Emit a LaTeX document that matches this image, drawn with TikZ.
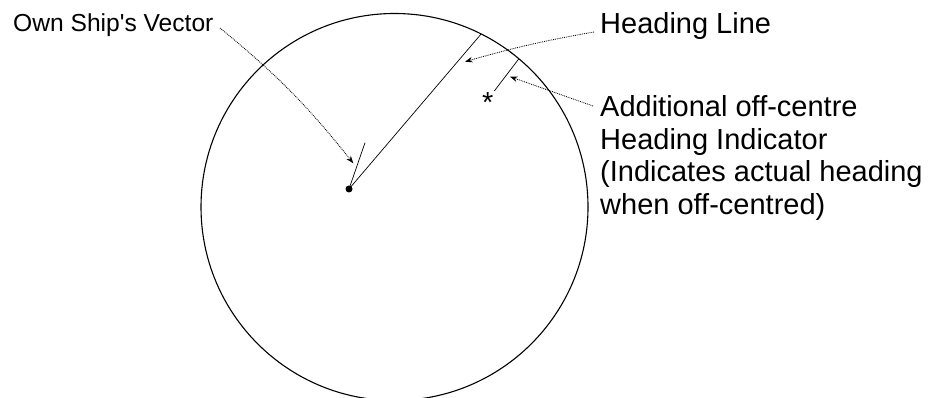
\documentclass[tikz,border=0pt]{standalone}
\usepackage{fontspec}
\setmainfont{Liberation Sans}[Ligatures=TeXOff]
\usetikzlibrary{arrows.meta,calc}
\begin{document}
\begin{tikzpicture}[x=1pt,y=1pt,
  scope outline/.style={line width=1.1pt},
  fine/.style={line width=0.7pt},
  leader/.style={densely dotted, line width=0.85pt, -{Stealth[length=7.5pt,width=5.5pt]}},
  lbl/.style={inner sep=0pt, anchor=base west},
  bigfont/.style={font=\fontsize{29}{32.5}\selectfont},
  smallfont/.style={font=\fontsize{24.6}{29}\selectfont},
  dotmark/.style={circle, fill=black, inner sep=0pt, minimum size=7pt}]
\useasboundingbox (0,0) rectangle (941,398);
\clip (0,0) rectangle (941,398);
% display circle
\coordinate (c) at (394.5,191);
\draw[scope outline] (c) circle[radius=193.5];
% centre dot and lines
\node[dotmark] (ctr) at (349,209) {};
\coordinate (hlend) at ($(c)+(63.4:193.5)$);
\draw[fine] (ctr.center) -- (hlend);
\coordinate (vend) at (365,255.3);
\draw[fine] (ctr.center) -- (vend);
\coordinate (itop) at ($(c)+(50:193.5)$);
\coordinate (ibot) at (494.3,307);
\draw[fine] (itop) -- (ibot);
\node[inner sep=0pt, anchor=north, bigfont] (ast) at (487.7,306) {*};
% labels
\node[lbl, smallfont] (osv) at (13,366) {Own Ship's Vector};
\node[lbl, bigfont] (hl) at (600,364) {Heading Line};
% multi-line node: base anchor is the baseline of its last line
\node[lbl, bigfont, align=left] (ahi) at (600,183.5) {Additional off-centre\\Heading Indicator\\(Indicates actual heading\\when off-centred)};
% leaders
\coordinate (osvS) at (220,370);
\coordinate (osvT) at (353.3,234.7);
\coordinate (hlS) at (594,366);
\coordinate (hlT) at (465,336.3);
\coordinate (ahiS) at (593,292);
\coordinate (ahiT) at (510,321.3);
\draw[leader] (osvS) to[bend left=6] (osvT);
\draw[leader] (hlS) to[bend right=3] (hlT);
\draw[leader] (ahiS) -- (ahiT);
\end{tikzpicture}
\end{document}
